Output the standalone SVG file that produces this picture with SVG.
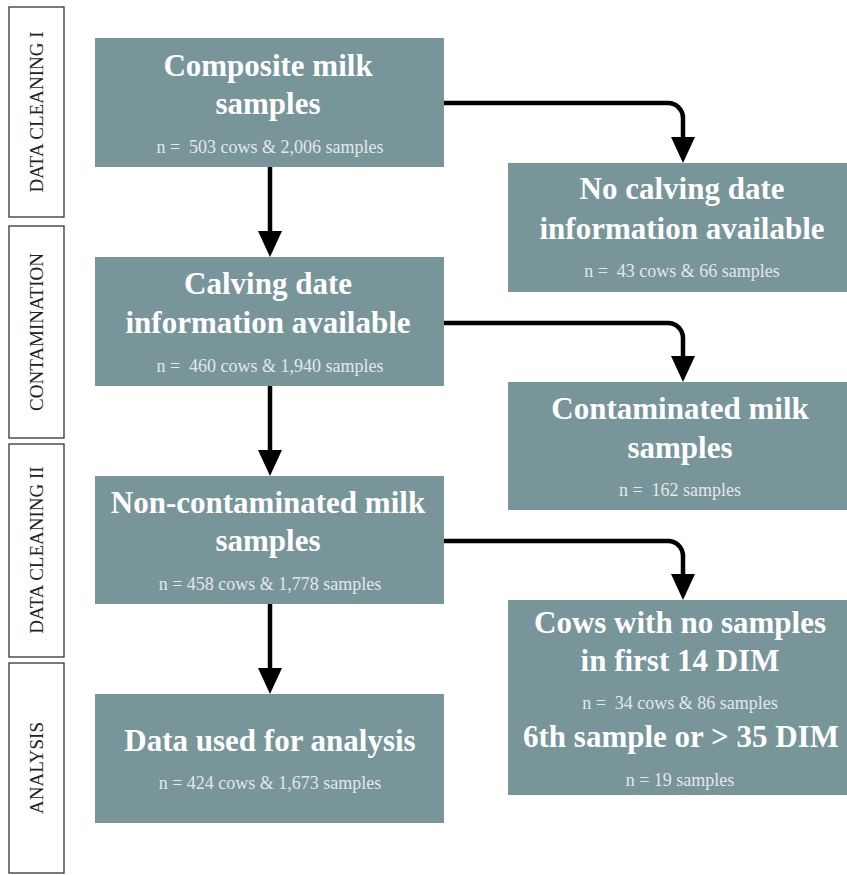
<svg xmlns="http://www.w3.org/2000/svg" width="847" height="875" viewBox="0 0 847 875">
<style>
.box{fill:#78959a}
.side{fill:#fff;stroke:#333;stroke-width:1.3}
.sidet{font-family:"Liberation Serif",serif;font-size:19px;fill:#222;text-anchor:middle}
.t{font-family:"Liberation Serif",serif;font-weight:bold;font-size:31px;fill:#fff;text-anchor:middle}
.n{font-family:"Liberation Serif",serif;font-size:18px;fill:#e2e8e9;text-anchor:middle;white-space:pre}
.c{fill:none;stroke:#000;stroke-width:4.5;marker-end:url(#ah)}
</style>
<defs>
<marker id="ah" viewBox="0 0 26 24" markerWidth="26" markerHeight="24" markerUnits="userSpaceOnUse" refX="16" refY="12" orient="auto">
<path d="M0,0 L26,12 L0,24 z" fill="#000"/>
</marker>
</defs>
<rect width="847" height="875" fill="#fff"/>
<g id="stages">
<g id="stage1"><rect class="side" x="9" y="7" width="55" height="210"/><text class="sidet" transform="translate(43,112) rotate(-90)">DATA CLEANING I</text></g>
<g id="stage2"><rect class="side" x="9" y="226" width="55" height="212"/><text class="sidet" transform="translate(43,332) rotate(-90)">CONTAMINATION</text></g>
<g id="stage3"><rect class="side" x="9" y="444" width="55" height="213"/><text class="sidet" transform="translate(43,550) rotate(-90)">DATA CLEANING II</text></g>
<g id="stage4"><rect class="side" x="9" y="663" width="55" height="210"/><text class="sidet" transform="translate(43,768) rotate(-90)">ANALYSIS</text></g>
</g>
<g id="connectors">
<path class="c" d="M270,167 V247"/>
<path class="c" d="M270,386 V466"/>
<path class="c" d="M270,604 V684"/>
<path class="c" d="M444,103 H668 A15,15 0 0 1 683,118 V153"/>
<path class="c" d="M444,323 H668 A15,15 0 0 1 683,338 V372"/>
<path class="c" d="M444,541 H668 A15,15 0 0 1 683,556 V590"/>
</g>
<g id="composite"><rect class="box" x="95" y="38" width="349" height="129"/>
<text class="t" x="268" y="76">Composite milk</text><text class="t" x="268" y="114">samples</text>
<text class="n" x="270" y="153">n =  503 cows &amp; 2,006 samples</text></g>
<g id="calving"><rect class="box" x="95" y="257" width="349" height="129"/>
<text class="t" x="268" y="294">Calving date</text><text class="t" x="268" y="333">information available</text>
<text class="n" x="270" y="372">n =  460 cows &amp; 1,940 samples</text></g>
<g id="noncontaminated"><rect class="box" x="95" y="476" width="349" height="128"/>
<text class="t" x="268" y="513">Non-contaminated milk</text><text class="t" x="268" y="551">samples</text>
<text class="n" x="270" y="590">n = 458 cows &amp; 1,778 samples</text></g>
<g id="analysis"><rect class="box" x="95" y="694" width="349" height="129"/>
<text class="t" x="270" y="751">Data used for analysis</text>
<text class="n" x="270" y="789">n = 424 cows &amp; 1,673 samples</text></g>
<g id="nocalving"><rect class="box" x="508" y="163" width="339" height="129"/>
<text class="t" x="682" y="199">No calving date</text><text class="t" x="682" y="239">information available</text>
<text class="n" x="682" y="277">n =  43 cows &amp; 66 samples</text></g>
<g id="contaminated"><rect class="box" x="508" y="382" width="339" height="128"/>
<text class="t" x="680" y="419">Contaminated milk</text><text class="t" x="680" y="458">samples</text>
<text class="n" x="680" y="496">n =  162 samples</text></g>
<g id="excluded"><rect class="box" x="508" y="600" width="339" height="195"/>
<text class="t" x="680" y="633">Cows with no samples</text><text class="t" x="680" y="671">in first 14 DIM</text>
<text class="n" x="680" y="709">n =  34 cows &amp; 86 samples</text>
<text class="t" x="681" y="747">6th sample or &gt; 35 DIM</text>
<text class="n" x="680" y="786">n = 19 samples</text></g>
</svg>
